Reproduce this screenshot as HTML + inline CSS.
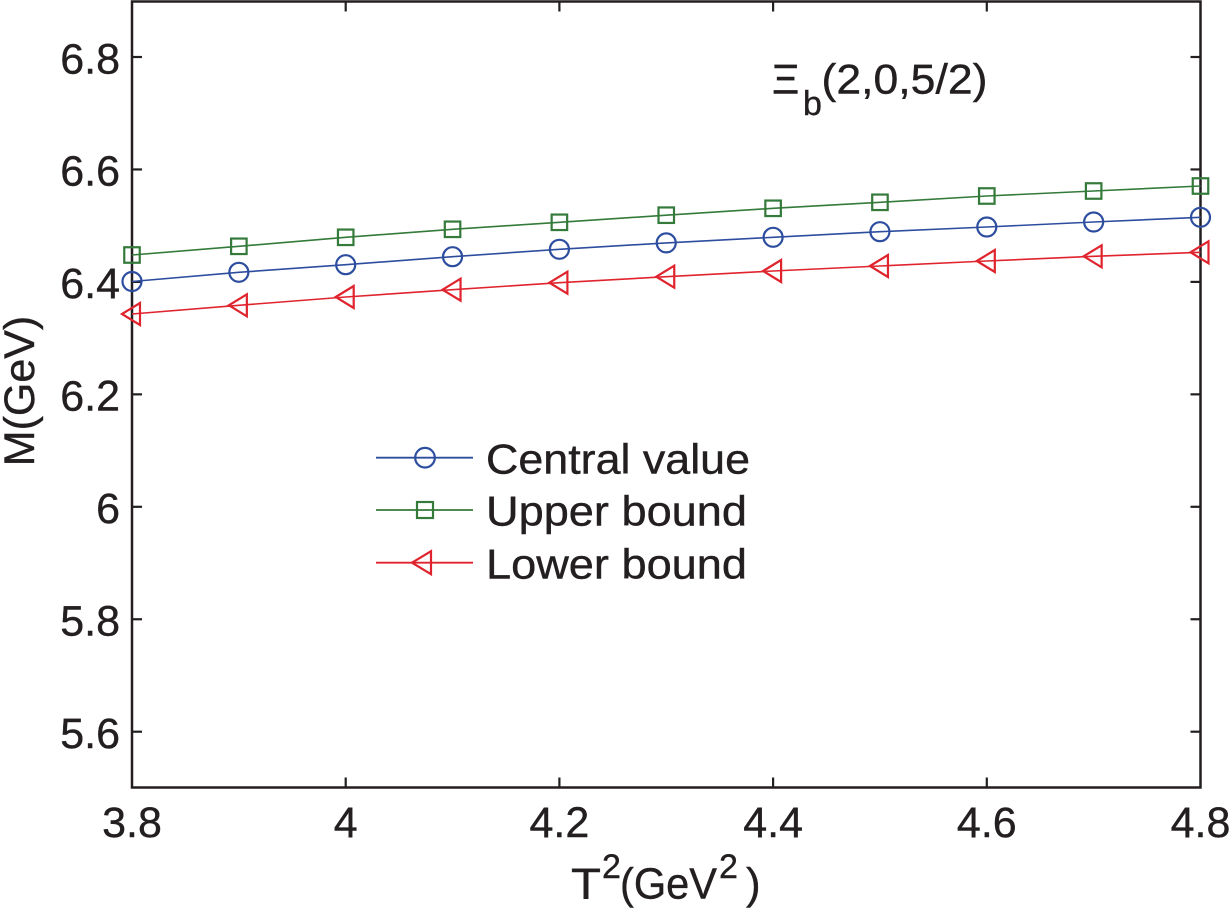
<!DOCTYPE html>
<html>
<head>
<meta charset="utf-8">
<style>
  html,body{margin:0;padding:0;background:#fff;}
  svg{display:block;}
  text{font-family:"Liberation Sans", Arial, sans-serif; fill:#231f20; stroke:#231f20; stroke-width:0.4;}
</style>
</head>
<body>
<svg width="1231" height="908" viewBox="0 0 1231 908" xmlns="http://www.w3.org/2000/svg">
  <rect x="0" y="0" width="1231" height="908" fill="#fff"/>

  <!-- axes box -->
  <rect x="132" y="1.5" width="1068.5" height="786" fill="none" stroke="#231f20" stroke-width="2.5"/>

  <!-- y ticks -->
  <g stroke="#231f20" stroke-width="2.2">
    <line x1="132" y1="57" x2="142" y2="57"/><line x1="1200.5" y1="57" x2="1190.5" y2="57"/>
    <line x1="132" y1="169.45" x2="142" y2="169.45"/><line x1="1200.5" y1="169.45" x2="1190.5" y2="169.45"/>
    <line x1="132" y1="281.9" x2="142" y2="281.9"/><line x1="1200.5" y1="281.9" x2="1190.5" y2="281.9"/>
    <line x1="132" y1="394.35" x2="142" y2="394.35"/><line x1="1200.5" y1="394.35" x2="1190.5" y2="394.35"/>
    <line x1="132" y1="506.8" x2="142" y2="506.8"/><line x1="1200.5" y1="506.8" x2="1190.5" y2="506.8"/>
    <line x1="132" y1="619.25" x2="142" y2="619.25"/><line x1="1200.5" y1="619.25" x2="1190.5" y2="619.25"/>
    <line x1="132" y1="731.7" x2="142" y2="731.7"/><line x1="1200.5" y1="731.7" x2="1190.5" y2="731.7"/>
  </g>
  <!-- x ticks -->
  <g stroke="#231f20" stroke-width="2.2">
    <line x1="345.7" y1="787.5" x2="345.7" y2="777.5"/><line x1="345.7" y1="1.5" x2="345.7" y2="11.5"/>
    <line x1="559.4" y1="787.5" x2="559.4" y2="777.5"/><line x1="559.4" y1="1.5" x2="559.4" y2="11.5"/>
    <line x1="773.1" y1="787.5" x2="773.1" y2="777.5"/><line x1="773.1" y1="1.5" x2="773.1" y2="11.5"/>
    <line x1="986.8" y1="787.5" x2="986.8" y2="777.5"/><line x1="986.8" y1="1.5" x2="986.8" y2="11.5"/>
  </g>

  <!-- y tick labels -->
  <g font-size="43" text-anchor="end">
    <text x="120" y="73.3">6.8</text>
    <text x="120" y="185.7">6.6</text>
    <text x="120" y="298.2">6.4</text>
    <text x="120" y="410.6">6.2</text>
    <text x="120" y="523.1">6</text>
    <text x="120" y="635.5">5.8</text>
    <text x="120" y="748">5.6</text>
  </g>
  <!-- x tick labels -->
  <g font-size="43" text-anchor="middle">
    <text x="132" y="837">3.8</text>
    <text x="345.7" y="837">4</text>
    <text x="559.4" y="837">4.2</text>
    <text x="773.1" y="837">4.4</text>
    <text x="986.8" y="837">4.6</text>
    <text x="1200.5" y="837">4.8</text>
  </g>

  <!-- axis labels -->
  <text font-size="43" text-anchor="middle" transform="translate(34,391) rotate(-90)">M(GeV)</text>
  <text font-size="44" y="898.3"><tspan x="571" textLength="30" lengthAdjust="spacingAndGlyphs">T</tspan><tspan x="602" y="878" font-size="34">2</tspan><tspan x="620" y="898.3" textLength="97" lengthAdjust="spacingAndGlyphs">(GeV</tspan><tspan x="719" y="878" font-size="34">2</tspan><tspan x="746" y="898.3">)</tspan></text>

  <!-- title -->
  <text font-size="42" y="93.3"><tspan x="772">Ξ</tspan><tspan x="803" y="115" font-size="34">b</tspan><tspan x="821.5" y="93.3" textLength="166" lengthAdjust="spacingAndGlyphs">(2,0,5/2)</tspan></text>

  <!-- series: upper (green squares) -->
  <g stroke="#347a3a" fill="none">
    <polyline stroke-width="1.6" points="132,255 238.85,246.3 345.7,237.3 452.55,229.3 559.4,222.3 666.25,215.2 773.1,208.3 879.95,202.3 986.8,196 1093.65,191 1200.5,186"/>
    <g stroke-width="2.2">
      <rect x="124.25" y="247.25" width="15.5" height="15.5"/>
      <rect x="231.1" y="238.55" width="15.5" height="15.5"/>
      <rect x="337.95" y="229.55" width="15.5" height="15.5"/>
      <rect x="444.8" y="221.55" width="15.5" height="15.5"/>
      <rect x="551.65" y="214.55" width="15.5" height="15.5"/>
      <rect x="658.5" y="207.45" width="15.5" height="15.5"/>
      <rect x="765.35" y="200.55" width="15.5" height="15.5"/>
      <rect x="872.2" y="194.55" width="15.5" height="15.5"/>
      <rect x="979.05" y="188.25" width="15.5" height="15.5"/>
      <rect x="1085.9" y="183.25" width="15.5" height="15.5"/>
      <rect x="1192.75" y="178.25" width="15.5" height="15.5"/>
    </g>
  </g>

  <!-- series: central (blue circles) -->
  <g stroke="#2d4d9f" fill="none">
    <polyline stroke-width="1.6" points="132,281.5 238.85,272.3 345.7,264.7 452.55,256.7 559.4,249.3 666.25,242.9 773.1,237.3 879.95,231.7 986.8,227 1093.65,222 1200.5,217.3"/>
    <g stroke-width="2.2">
      <circle cx="132" cy="281.5" r="9.5"/>
      <circle cx="238.85" cy="272.3" r="9.5"/>
      <circle cx="345.7" cy="264.7" r="9.5"/>
      <circle cx="452.55" cy="256.7" r="9.5"/>
      <circle cx="559.4" cy="249.3" r="9.5"/>
      <circle cx="666.25" cy="242.9" r="9.5"/>
      <circle cx="773.1" cy="237.3" r="9.5"/>
      <circle cx="879.95" cy="231.7" r="9.5"/>
      <circle cx="986.8" cy="227" r="9.5"/>
      <circle cx="1093.65" cy="222" r="9.5"/>
      <circle cx="1200.5" cy="217.3" r="9.5"/>
    </g>
  </g>

  <!-- series: lower (red triangles) -->
  <g stroke="#e0242e" fill="none">
    <polyline stroke-width="1.6" points="132,314 238.85,305.3 345.7,297 452.55,289.7 559.4,282.7 666.25,276.7 773.1,271 879.95,266 986.8,261 1093.65,256.3 1200.5,252.3"/>
    <g stroke-width="2.2">
      <polygon points="122,314 140,303 140,325"/>
      <polygon points="228.85,305.3 246.85,294.3 246.85,316.3"/>
      <polygon points="335.7,297 353.7,286 353.7,308"/>
      <polygon points="442.55,289.7 460.55,278.7 460.55,300.7"/>
      <polygon points="549.4,282.7 567.4,271.7 567.4,293.7"/>
      <polygon points="656.25,276.7 674.25,265.7 674.25,287.7"/>
      <polygon points="763.1,271 781.1,260 781.1,282"/>
      <polygon points="869.95,266 887.95,255 887.95,277"/>
      <polygon points="976.8,261 994.8,250 994.8,272"/>
      <polygon points="1083.65,256.3 1101.65,245.3 1101.65,267.3"/>
      <polygon points="1190.5,252.3 1208.5,241.3 1208.5,263.3"/>
    </g>
  </g>

  <!-- legend -->
  <g fill="none">
    <line x1="376" y1="457.7" x2="473" y2="457.7" stroke="#2d4d9f" stroke-width="1.8"/>
    <circle cx="425" cy="457.7" r="9.8" stroke="#2d4d9f" stroke-width="2.2"/>
    <line x1="376" y1="510" x2="473" y2="510" stroke="#347a3a" stroke-width="1.8"/>
    <rect x="417" y="502" width="16" height="16" stroke="#347a3a" stroke-width="2.2"/>
    <line x1="376" y1="562.7" x2="473" y2="562.7" stroke="#e0242e" stroke-width="1.8"/>
    <polygon points="412,562.7 431,551.2 431,574.2" stroke="#e0242e" stroke-width="2.2"/>
  </g>
  <g font-size="42">
    <text x="486" y="473.3" textLength="264" lengthAdjust="spacingAndGlyphs">Central value</text>
    <text x="486" y="525.7" textLength="261" lengthAdjust="spacingAndGlyphs">Upper bound</text>
    <text x="486" y="578.3" textLength="261" lengthAdjust="spacingAndGlyphs">Lower bound</text>
  </g>
</svg>
</body>
</html>
